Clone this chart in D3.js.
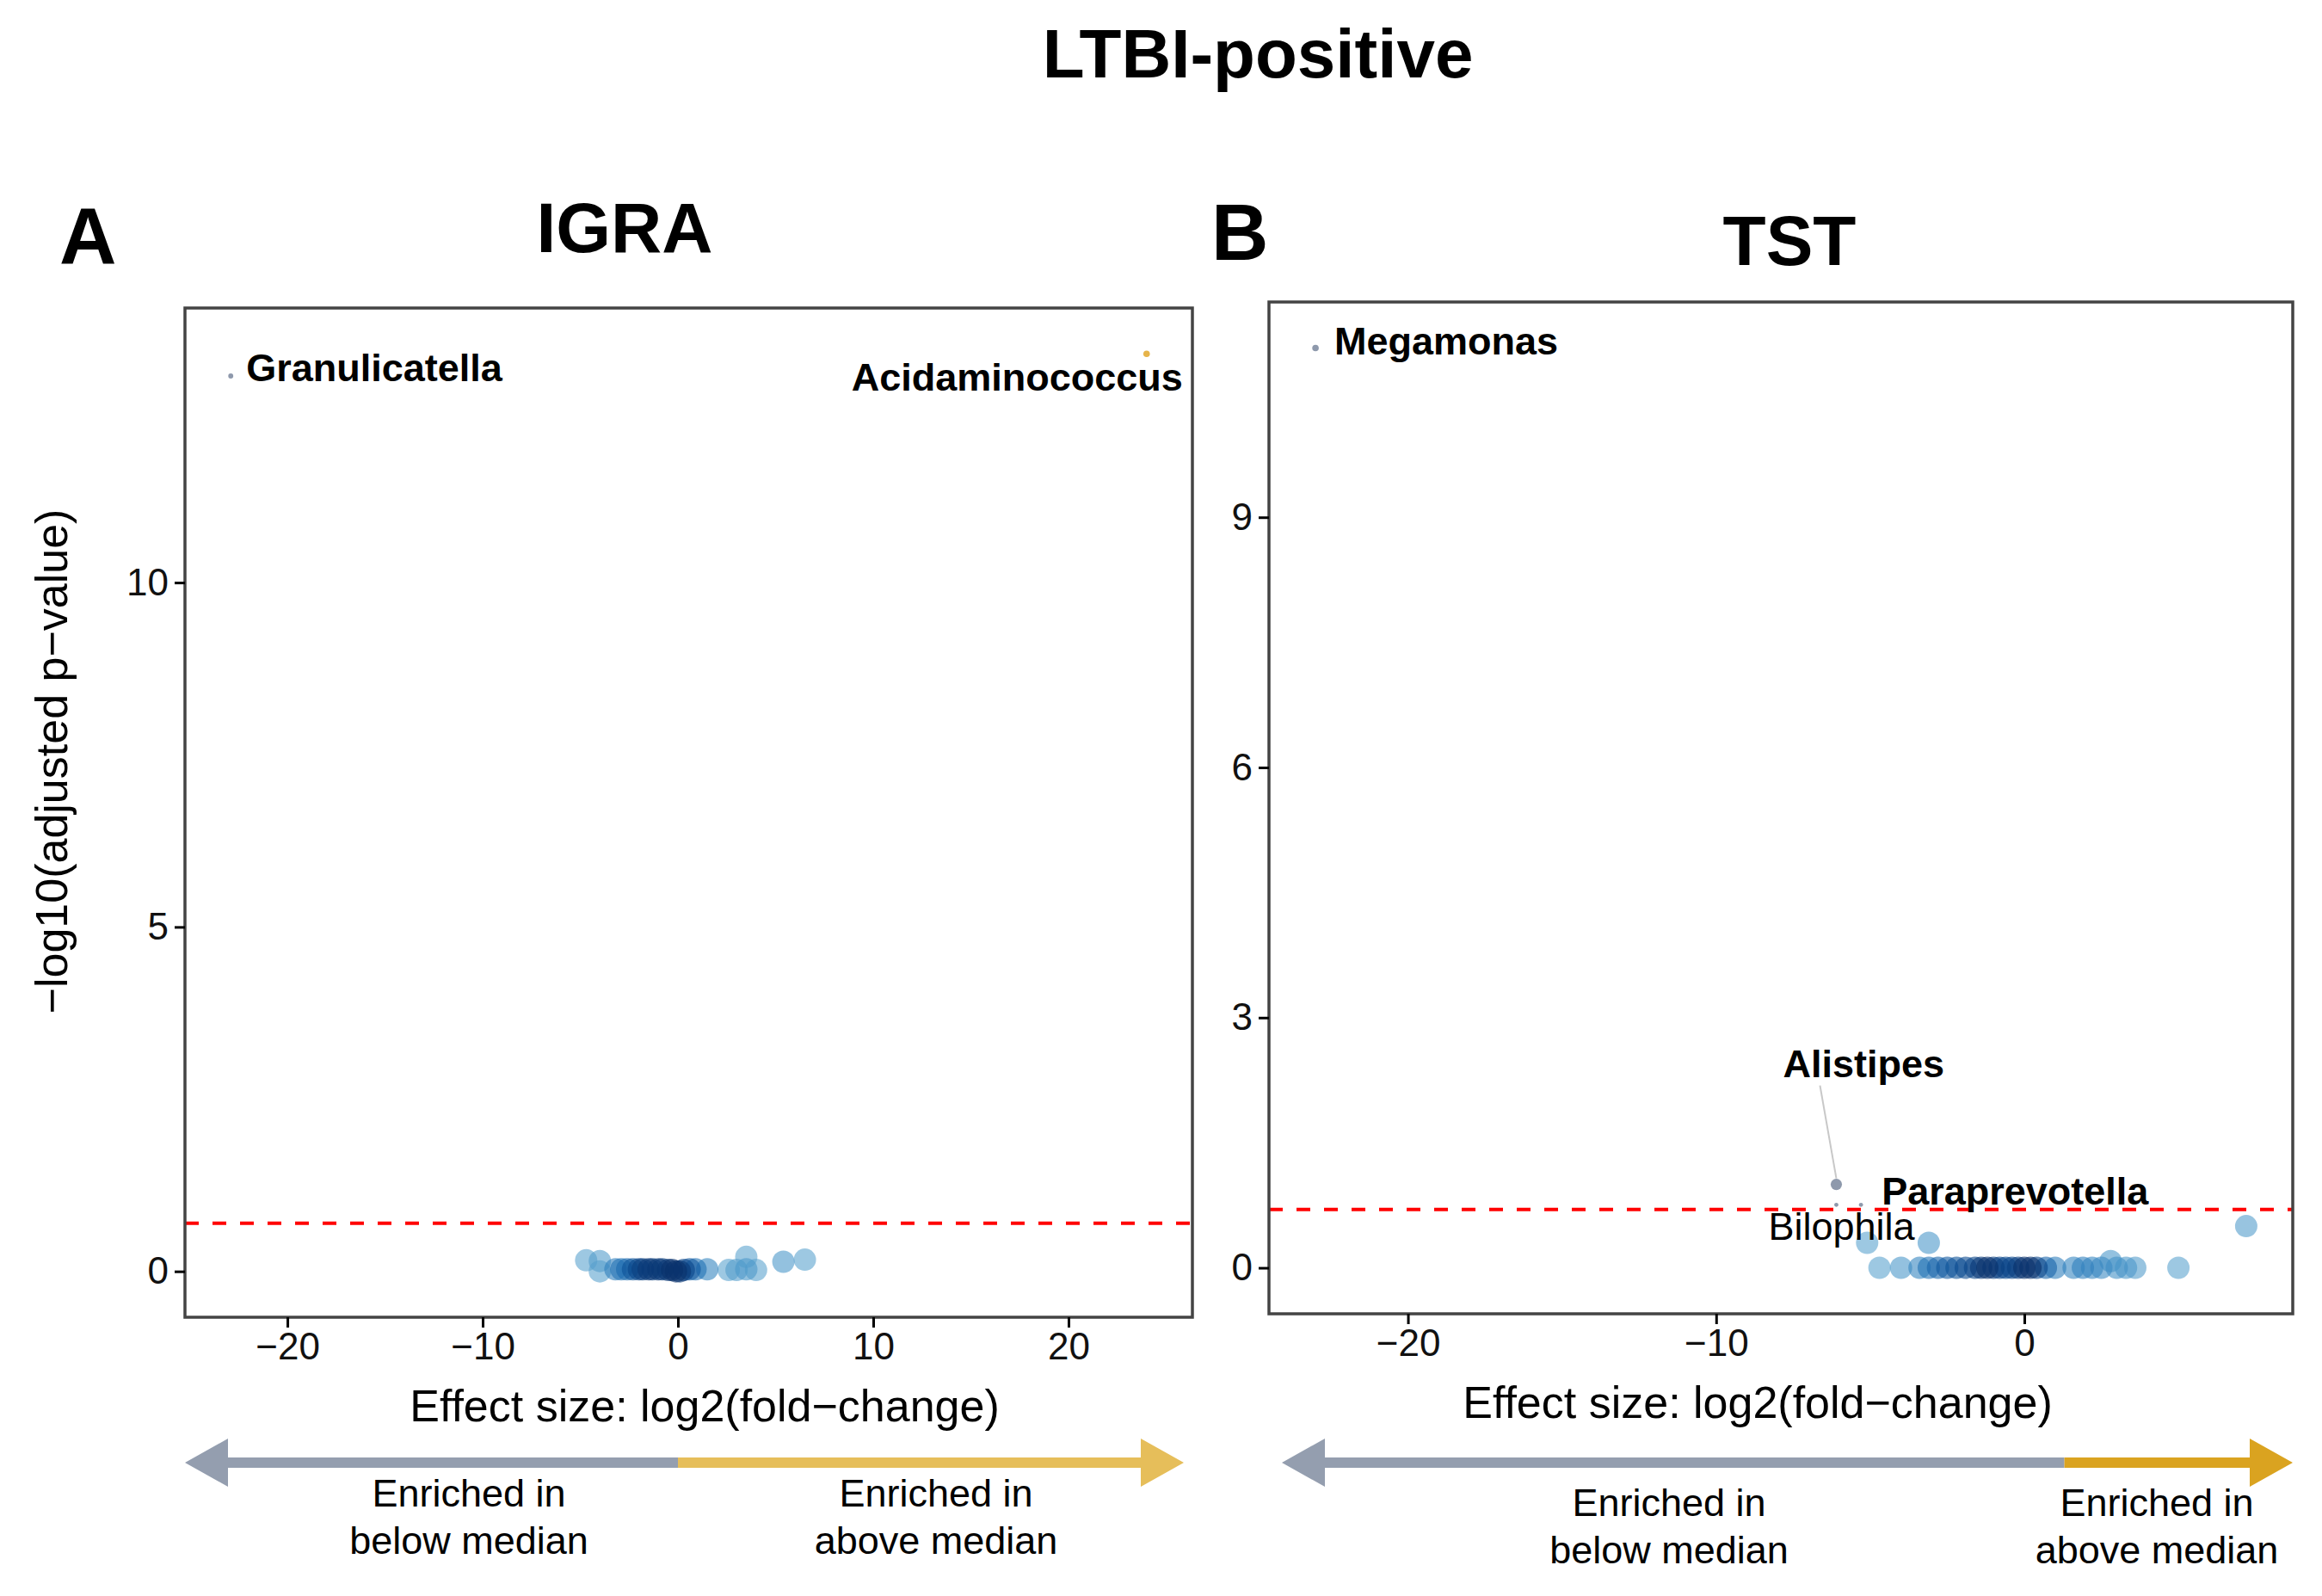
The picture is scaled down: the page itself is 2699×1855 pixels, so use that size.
<!DOCTYPE html>
<html>
<head>
<meta charset="utf-8">
<script src="https://cdn.jsdelivr.net/npm/d3@7"></script>
<style>
  body { margin: 0; background: #fff; }
  text { font-family: "Liberation Sans", Arial, Helvetica, sans-serif; }
</style>
</head>
<body>
<div id="fig"></div>
<script>
// ---- Data ----
// IGRA, genera that are not significant (log2 FC, -log10 adjusted p, relative abundance 0-1)
const igraFC    = [-4.7, -4.0, -4.0, -3.2, -2.9, -2.6, -2.3, -2.0, -1.8, -1.5, -1.3, -1.0, -0.8, -0.5, -0.3, -0.1, 0.1, 0.3, 0.6, 0.9, 1.5, 2.6, 3.0, 3.5, 3.5, 4.0, 5.4, 6.5]
const igraP     = [0.16, 0.15, 0.0, 0.03, 0.03, 0.03, 0.03, 0.03, 0.03, 0.03, 0.03, 0.03, 0.03, 0.02, 0.02, 0.0, 0.0, 0.02, 0.03, 0.03, 0.03, 0.02, 0.02, 0.21, 0.03, 0.02, 0.14, 0.17]
const igraAbund = [0.1, 0.15, 0.1, 0.4, 0.5, 0.55, 0.75, 0.85, 0.9, 0.95, 0.9, 0.95, 0.9, 0.95, 1.0, 1.0, 0.95, 0.85, 0.7, 0.5, 0.35, 0.1, 0.15, 0.1, 0.2, 0.1, 0.2, 0.1]

// IGRA, labelled genera
const igraHitGenus = ["Granulicatella", "Acidaminococcus"]
const igraHitFC    = [-22.9, 24.0]
const igraHitP     = [13.0, 13.32]
const igraHitAbund = [0.06, 0.1]

// TST, genera that are not significant
const tstFC    = [-5.1, -3.1, 7.2, -4.7, -4.0, -3.4, -3.1, -2.8, -2.5, -2.2, -1.9, -1.6, -1.4, -1.2, -1.0, -0.8, -0.6, -0.4, -0.2, 0.0, 0.2, 0.4, 0.7, 1.0, 1.6, 1.9, 2.2, 2.5, 2.8, 3.0, 3.3, 3.6, 5.0]
const tstP     = [0.30, 0.30, 0.50, 0, 0, 0, 0, 0, 0, 0, 0, 0, 0, 0, 0, 0, 0, 0, 0, 0, 0, 0, 0, 0, 0, 0, 0, 0, 0.08, 0, 0, 0, 0]
const tstAbund = [0.1, 0.2, 0.15, 0.1, 0.2, 0.35, 0.5, 0.6, 0.7, 0.75, 0.8, 0.85, 0.95, 1.0, 0.9, 0.85, 0.8, 0.85, 0.9, 1.0, 1.0, 0.85, 0.6, 0.4, 0.35, 0.4, 0.35, 0.3, 0.2, 0.25, 0.2, 0.15, 0.1]

// TST, labelled genera
const tstHitGenus = ["Megamonas", "Alistipes", "Bilophila", "Paraprevotella"]
const tstHitFC    = [-23.0, -6.1, -6.1, -5.3]
const tstHitP     = [11.03, 1.0, 0.755, 0.755]
const tstHitAbund = [0.1, 0.3, 0.04, 0.04]
const tstHitBold  = [true, true, false, true]

// Ticks
const igraXTicks = [-20, -10, 0, 10, 20]
const igraYTicks = [0, 5, 10]
const tstXTicks  = [-20, -10, 0]
const tstYTicks  = [0, 3, 6, 9]

// Significance threshold (adjusted p = 0.2) and where the arrow changes colour
const pThreshold = -Math.log10(0.2)
const arrowSplit = [0, 1.3]

// ---- Figure ----
const width = 2699
const height = 1855

const svg = d3.select("#fig")
  .append("svg")
    .attr("width", width)
    .attr("height", height)

svg.append("rect").attr("width", width).attr("height", height).attr("fill", "#fff")

const blue = d3.scaleSequential(t => d3.interpolateBlues(0.5 + 0.5 * t)).domain([0, 1])
const hitSize = d3.scaleSqrt().domain([0, 1]).range([0, 12])

// ggplot-like 5% padding
function expand(ext) {
  const pad = (ext[1] - ext[0]) * 0.05
  return [ext[0] - pad, ext[1] + pad]
}

function drawPanel(p) {
  const allFC = p.fc.concat(p.hitFC)
  const allP = p.pv.concat(p.hitP)

  const x = d3.scaleLinear().domain(expand(d3.extent(allFC))).range([p.left, p.right])
  const y = d3.scaleLinear().domain(expand([0, d3.max(allP)])).range([p.bottom, p.top])

  const g = svg.append("g")

  // threshold line
  g.append("line")
    .attr("x1", p.left).attr("x2", p.right)
    .attr("y1", y(pThreshold)).attr("y2", y(pThreshold))
    .attr("stroke", "#ff0000")
    .attr("stroke-width", 4)
    .attr("stroke-dasharray", "16,16")

  // non significant genera, darker ones on top
  const pts = p.fc.map((d, i) => ({fc: d, p: p.pv[i], a: p.abund[i]}))
    .sort((a, b) => a.a - b.a)
  g.selectAll("circle.pt")
    .data(pts)
    .join("circle")
      .attr("class", "pt")
      .attr("cx", d => x(d.fc))
      .attr("cy", d => y(d.p))
      .attr("r", 13)
      .style("fill", d => blue(d.a))
      .style("fill-opacity", 0.6)

  // labelled genera
  const hits = p.hitFC.map((d, i) => ({fc: d, p: p.hitP[i], a: p.hitAbund[i], name: p.hitGenus[i],
    bold: p.hitBold ? p.hitBold[i] : true, lab: p.labels[i]}))

  hits.filter(d => d.lab.line).forEach(d => {
    g.append("line")
      .attr("x1", x(d.fc) + d.lab.line[0]).attr("y1", y(d.p) + d.lab.line[1])
      .attr("x2", x(d.fc)).attr("y2", y(d.p) - 7)
      .attr("stroke", "#c8c8c8")
      .attr("stroke-width", 2)
  })

  g.selectAll("circle.hit")
    .data(hits)
    .join("circle")
      .attr("class", "hit")
      .attr("cx", d => x(d.fc))
      .attr("cy", d => y(d.p))
      .attr("r", d => hitSize(d.a))
      .style("fill", d => d.fc < 0 ? "#8e99ac" : "#e6b44a")

  g.selectAll("text.hit")
    .data(hits)
    .join("text")
      .attr("class", "hit")
      .attr("x", d => x(d.fc) + d.lab.dx)
      .attr("y", d => y(d.p) + d.lab.dy)
      .attr("text-anchor", d => d.lab.anchor)
      .style("font-size", "45px")
      .style("font-weight", d => d.bold ? "bold" : "normal")
      .text(d => d.name)

  // panel border
  g.append("rect")
    .attr("x", p.left).attr("y", p.top)
    .attr("width", p.right - p.left).attr("height", p.bottom - p.top)
    .attr("fill", "none")
    .attr("stroke", "#444")
    .attr("stroke-width", 3.5)

  // axes
  const xAxis = g.append("g")
    .attr("transform", `translate(0,${p.bottom})`)
    .call(d3.axisBottom(x).tickValues(p.xTicks).tickSize(12).tickPadding(6))
  const yAxis = g.append("g")
    .attr("transform", `translate(${p.left},0)`)
    .call(d3.axisLeft(y).tickValues(p.yTicks).tickSize(12).tickPadding(7))
  ;[xAxis, yAxis].forEach(a => {
    a.select(".domain").remove()
    a.selectAll(".tick line").attr("stroke", "#000").attr("stroke-width", 3)
    a.selectAll(".tick text").style("font-size", "44px").attr("fill", "#111")
      .style("font-family", "'Liberation Sans', Arial, sans-serif")
  })

  // x axis title
  g.append("text")
    .attr("x", p.xTitleX).attr("y", p.xTitleY)
    .attr("text-anchor", "middle")
    .style("font-size", "52px")
    .text("Effect size: log2(fold\u2212change)")

  // arrow under the axis
  const ay = 1700, hl = 50, hh = 28, sh = 6
  const x0 = p.arrow[0], x1 = p.arrow[1], xs = x(p.split)
  g.append("polygon")
    .attr("points", [[x0, ay], [x0 + hl, ay - hh], [x0 + hl, ay - sh], [xs, ay - sh],
      [xs, ay + sh], [x0 + hl, ay + sh], [x0 + hl, ay + hh]].join(" "))
    .attr("fill", "#949eaf")
  g.append("polygon")
    .attr("points", [[x1, ay], [x1 - hl, ay - hh], [x1 - hl, ay - sh], [xs, ay - sh],
      [xs, ay + sh], [x1 - hl, ay + sh], [x1 - hl, ay + hh]].join(" "))
    .attr("fill", p.gold)

  const notes = [[p.noteL, "Enriched in", "below median"], [p.noteR, "Enriched in", "above median"]]
  notes.forEach(n => {
    const t = g.append("text")
      .attr("text-anchor", "middle")
      .style("font-size", "45px")
    t.append("tspan").attr("x", n[0]).attr("y", p.noteY).text(n[1])
    t.append("tspan").attr("x", n[0]).attr("y", p.noteY + 55).text(n[2])
  })
}

drawPanel({
  fc: igraFC, pv: igraP, abund: igraAbund,
  hitFC: igraHitFC, hitP: igraHitP, hitAbund: igraHitAbund, hitGenus: igraHitGenus,
  labels: [{dx: 18, dy: 6, anchor: "start"}, {dx: 42, dy: 43, anchor: "end"}],
  left: 215, right: 1386, top: 358, bottom: 1531,
  xTicks: igraXTicks, yTicks: igraYTicks,
  xTitleX: 819, xTitleY: 1652,
  arrow: [215, 1376], split: arrowSplit[0], gold: "#e6be5a",
  noteL: 545, noteR: 1088, noteY: 1751
})

drawPanel({
  fc: tstFC, pv: tstP, abund: tstAbund,
  hitFC: tstHitFC, hitP: tstHitP, hitAbund: tstHitAbund, hitGenus: tstHitGenus, hitBold: tstHitBold,
  labels: [{dx: 22, dy: 8, anchor: "start"},
           {dx: -62, dy: -125, anchor: "start", line: [-19, -115]},
           {dx: -79, dy: 41, anchor: "start"},
           {dx: 24, dy: 0, anchor: "start"}],
  left: 1475, right: 2665, top: 351, bottom: 1527,
  xTicks: tstXTicks, yTicks: tstYTicks,
  xTitleX: 2043, xTitleY: 1648,
  arrow: [1490, 2665], split: arrowSplit[1], gold: "#daa320",
  noteL: 1940, noteR: 2507, noteY: 1762
})

// y axis title (panel A only)
svg.append("text")
  .attr("transform", "translate(78,885) rotate(-90)")
  .attr("text-anchor", "middle")
  .style("font-size", "52px")
  .text("\u2212log10(adjusted p\u2212value)")

// titles
svg.append("text")
  .attr("x", 1462).attr("y", 90)
  .attr("text-anchor", "middle")
  .style("font-size", "80px").style("font-weight", "bold")
  .text("LTBI-positive")

const heads = [["A", 69, 306, "start"], ["B", 1408, 302, "start"], ["IGRA", 726, 293, "middle"], ["TST", 2080, 308, "middle"]]
svg.selectAll("text.head")
  .data(heads)
  .join("text")
    .attr("class", "head")
    .attr("x", d => d[1])
    .attr("y", d => d[2])
    .attr("text-anchor", d => d[3])
    .style("font-size", d => d[0].length == 1 ? "92px" : "82px")
    .style("font-weight", "bold")
    .text(d => d[0])
</script>
